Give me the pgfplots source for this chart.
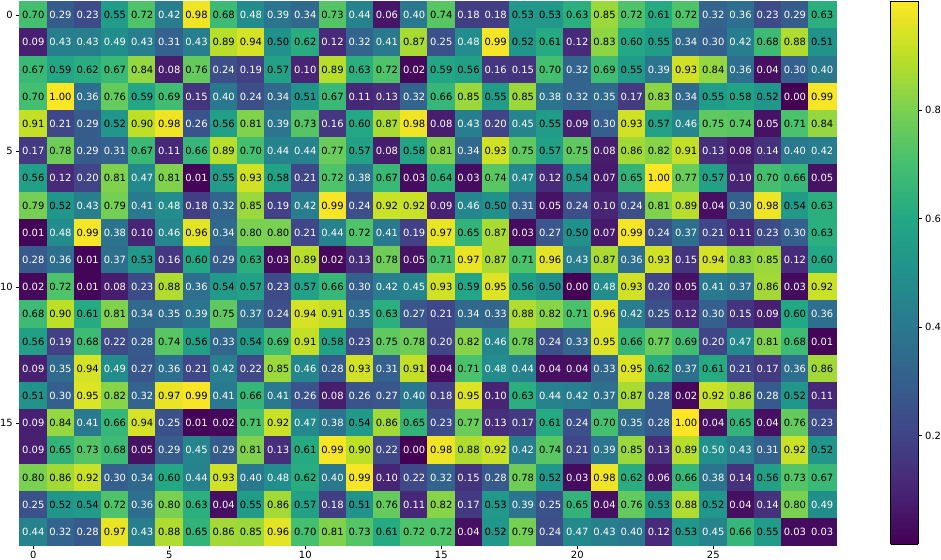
\documentclass[border=0pt]{standalone}
\usepackage{fontspec}
\setmainfont{DejaVu Sans}
\usepackage{pgfplots}
\usepackage{pgfplotstable}
\pgfplotsset{compat=1.18}

% 20 rows x 30 columns, row 0 at the top
\pgfplotstableread{
c0 c1 c2 c3 c4 c5 c6 c7 c8 c9 c10 c11 c12 c13 c14 c15 c16 c17 c18 c19 c20 c21 c22 c23 c24 c25 c26 c27 c28 c29
0.70 0.29 0.23 0.55 0.72 0.42 0.98 0.68 0.48 0.39 0.34 0.73 0.44 0.06 0.40 0.74 0.18 0.18 0.53 0.53 0.63 0.85 0.72 0.61 0.72 0.32 0.36 0.23 0.29 0.63
0.09 0.43 0.43 0.49 0.43 0.31 0.43 0.89 0.94 0.50 0.62 0.12 0.32 0.41 0.87 0.25 0.48 0.99 0.52 0.61 0.12 0.83 0.60 0.55 0.34 0.30 0.42 0.68 0.88 0.51
0.67 0.59 0.62 0.67 0.84 0.08 0.76 0.24 0.19 0.57 0.10 0.89 0.63 0.72 0.02 0.59 0.56 0.16 0.15 0.70 0.32 0.69 0.55 0.39 0.93 0.84 0.36 0.04 0.30 0.40
0.70 1.00 0.36 0.76 0.59 0.69 0.15 0.40 0.24 0.34 0.51 0.67 0.11 0.13 0.32 0.66 0.85 0.55 0.85 0.38 0.32 0.35 0.17 0.83 0.34 0.55 0.58 0.52 0.00 0.99
0.91 0.21 0.29 0.52 0.90 0.98 0.26 0.56 0.81 0.39 0.73 0.16 0.60 0.87 0.98 0.08 0.43 0.20 0.45 0.55 0.09 0.30 0.93 0.57 0.46 0.75 0.74 0.05 0.71 0.84
0.17 0.78 0.29 0.31 0.67 0.11 0.66 0.89 0.70 0.44 0.44 0.77 0.57 0.08 0.58 0.81 0.34 0.93 0.75 0.57 0.75 0.08 0.86 0.82 0.91 0.13 0.08 0.14 0.40 0.42
0.56 0.12 0.20 0.81 0.47 0.81 0.01 0.55 0.93 0.58 0.21 0.72 0.38 0.67 0.03 0.64 0.03 0.74 0.47 0.12 0.54 0.07 0.65 1.00 0.77 0.57 0.10 0.70 0.66 0.05
0.79 0.52 0.43 0.79 0.41 0.48 0.18 0.32 0.85 0.19 0.42 0.99 0.24 0.92 0.92 0.09 0.46 0.50 0.31 0.05 0.24 0.10 0.24 0.81 0.89 0.04 0.30 0.98 0.54 0.63
0.01 0.48 0.99 0.38 0.10 0.46 0.96 0.34 0.80 0.80 0.21 0.44 0.72 0.41 0.19 0.97 0.65 0.87 0.03 0.27 0.50 0.07 0.99 0.24 0.37 0.21 0.11 0.23 0.30 0.63
0.28 0.36 0.01 0.37 0.53 0.16 0.60 0.29 0.63 0.03 0.89 0.02 0.13 0.78 0.05 0.71 0.97 0.87 0.71 0.96 0.43 0.87 0.36 0.93 0.15 0.94 0.83 0.85 0.12 0.60
0.02 0.72 0.01 0.08 0.23 0.88 0.36 0.54 0.57 0.23 0.57 0.66 0.30 0.42 0.45 0.93 0.59 0.95 0.56 0.50 0.00 0.48 0.93 0.20 0.05 0.41 0.37 0.86 0.03 0.92
0.68 0.90 0.61 0.81 0.34 0.35 0.39 0.75 0.37 0.24 0.94 0.91 0.35 0.63 0.27 0.21 0.34 0.33 0.88 0.82 0.71 0.96 0.42 0.25 0.12 0.30 0.15 0.09 0.60 0.36
0.56 0.19 0.68 0.22 0.28 0.74 0.56 0.33 0.54 0.69 0.91 0.58 0.23 0.75 0.78 0.20 0.82 0.46 0.78 0.24 0.33 0.95 0.66 0.77 0.69 0.20 0.47 0.81 0.68 0.01
0.09 0.35 0.94 0.49 0.27 0.36 0.21 0.42 0.22 0.85 0.46 0.28 0.93 0.31 0.91 0.04 0.71 0.48 0.44 0.04 0.04 0.33 0.95 0.62 0.37 0.61 0.21 0.17 0.36 0.86
0.51 0.30 0.95 0.82 0.32 0.97 0.99 0.41 0.66 0.41 0.26 0.08 0.26 0.27 0.40 0.18 0.95 0.10 0.63 0.44 0.42 0.37 0.87 0.28 0.02 0.92 0.86 0.28 0.52 0.11
0.09 0.84 0.41 0.66 0.94 0.25 0.01 0.02 0.71 0.92 0.47 0.38 0.54 0.86 0.65 0.23 0.77 0.13 0.17 0.61 0.24 0.70 0.35 0.28 1.00 0.04 0.65 0.04 0.76 0.23
0.09 0.65 0.73 0.68 0.05 0.29 0.45 0.29 0.81 0.13 0.61 0.99 0.90 0.22 0.00 0.98 0.88 0.92 0.42 0.74 0.21 0.39 0.85 0.13 0.89 0.497 0.43 0.31 0.92 0.52
0.80 0.86 0.92 0.30 0.34 0.60 0.44 0.93 0.40 0.48 0.62 0.40 0.99 0.10 0.22 0.32 0.15 0.28 0.78 0.52 0.03 0.98 0.62 0.06 0.66 0.38 0.14 0.56 0.73 0.67
0.25 0.52 0.54 0.72 0.36 0.80 0.63 0.04 0.55 0.86 0.57 0.18 0.51 0.76 0.11 0.82 0.17 0.53 0.39 0.25 0.65 0.04 0.76 0.53 0.88 0.52 0.04 0.14 0.80 0.49
0.44 0.32 0.28 0.97 0.43 0.88 0.65 0.86 0.85 0.96 0.70 0.81 0.73 0.61 0.72 0.72 0.04 0.52 0.79 0.24 0.47 0.43 0.40 0.12 0.53 0.45 0.66 0.55 0.03 0.03
}\heat

\begin{document}
\begin{tikzpicture}
\begin{axis}[
  name=main,
  scale only axis,
  width=816bp, height=544bp,
  xmin=-0.5, xmax=29.5, ymin=-0.5, ymax=19.5,
  y dir=reverse,
  xtick={0,5,...,25}, ytick={0,5,10,15},
  tick pos=left, tick align=outside,
  major tick length=3.5bp,
  tick style={black, line width=0.8bp},
  axis line style={line width=0.8bp},
  ticklabel style={font=\fontsize{10}{12}\selectfont},
  xticklabel style={yshift=1bp},
  /pgf/number format/assume math mode=true,
  axis on top,
  colormap={vir}{rgb255=(68,1,84) rgb255=(72,36,117) rgb255=(65,68,135) rgb255=(53,95,141)
    rgb255=(42,120,142) rgb255=(33,145,140) rgb255=(34,168,132) rgb255=(68,191,112)
    rgb255=(122,209,81) rgb255=(189,223,38) rgb255=(253,231,37)},
  point meta min=0, point meta max=1,
  colorbar sampled,
  colorbar style={
    samples=101,
    at={(parent axis.north east)}, anchor=north west, xshift=46.5bp,
    scale only axis, width=27.5bp, height=543bp,
    ytick={0.2,0.4,0.6,0.8},
    yticklabels={0.2,0.4,0.6,0.8},
    ytick pos=right, yticklabel pos=right,
    tick align=outside, major tick length=3.5bp,
    tick style={black, line width=0.8bp},
    axis line style={line width=0.8bp},
    yticklabel style={font=\fontsize{10}{12}\selectfont},
  },
]
% cells
\pgfplotsinvokeforeach{0,...,29}{
  \addplot[scatter, only marks, mark=square*, mark size=13.65bp,
    point meta=\thisrow{c#1},
    scatter/use mapped color={draw=mapped color, fill=mapped color},
  ] table[x expr=#1, y expr=\coordindex] {\heat};
}
% values written in the cells
\pgfplotsinvokeforeach{0,...,29}{
  \addplot[only marks, mark=none, point meta=\thisrow{c#1},
    visualization depends on={\thisrow{c#1} \as \val},
    nodes near coords={\ifdim\val pt<0.5pt\color{white}\else\color{black}\fi
      \pgfmathprintnumber[fixed, fixed zerofill, precision=2, assume math mode=true]{\val}},
    nodes near coords align=center,
    every node near coord/.append style={font=\fontsize{10}{12}\selectfont, inner sep=0pt},
  ] table[x expr=#1, y expr=\coordindex] {\heat};
}
\end{axis}
\pgfresetboundingbox
\path[use as bounding box] ([xshift=-19.7bp,yshift=-14.6bp]main.south west) rectangle ([xshift=105.3bp,yshift=1.4bp]main.north east);
\end{tikzpicture}
\end{document}
